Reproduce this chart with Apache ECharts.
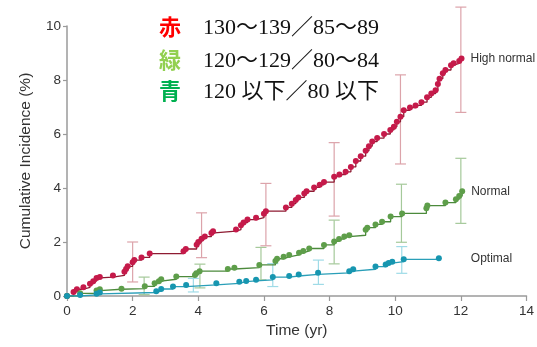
<!DOCTYPE html>
<html>
<head>
<meta charset="utf-8">
<script src="https://cdn.jsdelivr.net/npm/echarts@6/dist/echarts.min.js"></script>
<style>
  html, body { margin: 0; padding: 0; background: #fff; }
  #chart { width: 537px; height: 347px; }
</style>
</head>
<body>
<div id="chart"></div>
<script>
// 曲线数据 [时间, 累计发生率]
const highNormal = [[0, 0], [0.2, 0.15], [0.3, 0.25], [0.5, 0.32], [0.7, 0.45], [0.8, 0.55], [0.9, 0.67], [1.0, 0.7], [1.4, 0.76], [1.75, 0.9], [1.8, 1.0], [1.85, 1.1], [2.0, 1.25], [2.05, 1.33], [2.27, 1.43], [2.52, 1.57], [3.55, 1.66], [3.62, 1.74], [3.95, 1.9], [4.0, 2.0], [4.1, 2.12], [4.2, 2.2], [4.4, 2.33], [4.45, 2.4], [5.15, 2.46], [5.3, 2.62], [5.38, 2.72], [5.5, 2.83], [5.76, 2.9], [6.0, 3.05], [6.06, 3.14], [6.67, 3.28], [6.85, 3.42], [6.97, 3.56], [7.05, 3.65], [7.23, 3.8], [7.3, 3.88], [7.53, 4.02], [7.7, 4.12], [7.83, 4.22], [8.14, 4.42], [8.3, 4.5], [8.49, 4.6], [8.65, 4.78], [8.8, 5.0], [8.95, 5.18], [9.1, 5.38], [9.2, 5.55], [9.3, 5.72], [9.45, 5.85], [9.66, 6.0], [9.85, 6.15], [9.96, 6.27], [10.05, 6.45], [10.16, 6.64], [10.26, 6.88], [10.45, 6.98], [10.62, 7.06], [10.8, 7.18], [10.97, 7.36], [11.1, 7.5], [11.23, 7.62], [11.3, 7.85], [11.35, 8.05], [11.45, 8.25], [11.53, 8.37], [11.7, 8.55], [11.78, 8.62], [11.95, 8.7], [12.02, 8.8]]
const normal = [[0, 0], [0.4, 0.1], [0.9, 0.2], [1.0, 0.25], [1.66, 0.27], [2.37, 0.36], [2.67, 0.47], [2.8, 0.55], [2.87, 0.62], [3.33, 0.72], [3.9, 0.78], [3.94, 0.84], [4.04, 0.92], [4.9, 1.0], [5.1, 1.05], [5.86, 1.15], [6.35, 1.3], [6.4, 1.38], [6.6, 1.45], [6.77, 1.52], [7.07, 1.6], [7.2, 1.67], [7.38, 1.76], [7.83, 1.89], [8.14, 2.02], [8.29, 2.11], [8.45, 2.2], [8.6, 2.25], [9.1, 2.45], [9.15, 2.53], [9.4, 2.65], [9.6, 2.75], [9.86, 2.94], [10.21, 3.06], [10.95, 3.25], [10.98, 3.35], [11.53, 3.46], [11.85, 3.58], [11.95, 3.7], [12.04, 3.88]]
const optimal = [[0, 0], [0.4, 0.04], [0.9, 0.08], [1.0, 0.13], [2.72, 0.18], [2.87, 0.26], [3.23, 0.35], [3.63, 0.41], [4.55, 0.47], [5.25, 0.53], [5.46, 0.56], [5.76, 0.6], [6.27, 0.7], [6.77, 0.74], [7.06, 0.8], [7.65, 0.86], [8.6, 0.92], [8.72, 0.99], [9.4, 1.09], [9.71, 1.17], [9.8, 1.22], [9.91, 1.27], [10.26, 1.36], [11.33, 1.4]]

// 误差线 [时间, 下限, 上限]
const highNormalErr = [[2.0, 0.52, 2.0], [4.1, 1.42, 3.08], [6.06, 1.86, 4.17], [8.14, 2.96, 5.68], [10.16, 4.89, 8.19], [12.0, 6.8, 10.7]]
const normalErr = [[2.35, 0.05, 0.7], [4.05, 0.3, 1.18], [5.91, 0.6, 1.8], [8.14, 1.19, 2.81], [10.19, 1.99, 4.14], [12.0, 2.69, 5.1]]
const optimalErr = [[3.85, 0.15, 0.65], [6.27, 0.35, 1.2], [7.66, 0.43, 1.33], [10.2, 0.84, 1.83]]

const seriesNames = ['High normal', 'Normal', 'Optimal']
const xTicks = [0, 2, 4, 6, 8, 10, 12, 14]
const yTicks = [0, 2, 4, 6, 8, 10]

// 图例文字
const legendKeys = ['赤', '緑', '青']
const legendTexts = ['130～139／85～89', '120～129／80～84', '120 以下／80 以下']

const lineColors = ['#8e1b32', '#4c8a3c', '#2a9fb8']
const dotColors = ['#c51a4a', '#5e9e4a', '#1796b0']
const errColors = ['#dca3aa', '#a5c99a', '#9fdbe7']
const keyColors = ['#ff0000', '#92d050', '#00b050']
const labelGaps = [9, 9, 32]
const sansFont = 'Liberation Sans, Arial, sans-serif'

function errSeries (data, color) {
  return {
    type: 'custom',
    data: data,
    z: 1,
    silent: true,
    renderItem: function (params, api) {
      let x = api.value(0)
      let lo = api.coord([x, api.value(1)])
      let hi = api.coord([x, api.value(2)])
      let w = 5.5
      let style = { stroke: color, lineWidth: 1.2 }
      return {
        type: 'group',
        children: [
          { type: 'line', shape: { x1: lo[0], y1: lo[1], x2: hi[0], y2: hi[1] }, style: style },
          { type: 'line', shape: { x1: lo[0] - w, y1: lo[1], x2: lo[0] + w, y2: lo[1] }, style: style },
          { type: 'line', shape: { x1: hi[0] - w, y1: hi[1], x2: hi[0] + w, y2: hi[1] }, style: style }
        ]
      }
    }
  }
}

function curveSeries (data, i) {
  return {
    type: 'line',
    name: seriesNames[i],
    data: data,
    step: 'end',
    z: 3,
    symbol: 'circle',
    symbolSize: 6,
    showAllSymbol: true,
    lineStyle: { color: lineColors[i], width: 1.3 },
    itemStyle: { color: dotColors[i] },
    endLabel: {
      show: true,
      formatter: seriesNames[i],
      distance: labelGaps[i],
      color: '#333',
      fontSize: 12,
      fontFamily: sansFont
    }
  }
}

let legendGraphics = []
legendKeys.forEach(function (k, i) {
  let cy = [29, 62, 93][i]
  legendGraphics.push({
    type: 'text', left: 159, top: cy - 13,
    style: { text: k, fill: keyColors[i], fontSize: 22, fontWeight: 'bold', fontFamily: 'Noto Sans CJK JP' }
  })
  legendGraphics.push({
    type: 'text', left: 203, top: cy - 12,
    style: { text: legendTexts[i], fill: '#111', fontSize: 22, fontFamily: 'Liberation Serif, Noto Sans CJK JP' }
  })
})

let chart = echarts.init(document.getElementById('chart'), null, { renderer: 'canvas' })
chart.setOption({
  animation: false,
  backgroundColor: '#fff',
  grid: { left: 67, right: 9, top: 26, bottom: 51, containLabel: false },
  xAxis: {
    type: 'value',
    min: xTicks[0],
    max: xTicks[xTicks.length - 1],
    interval: 2,
    name: 'Time (yr)',
    nameLocation: 'middle',
    nameGap: 27,
    nameTextStyle: { fontSize: 15.5, color: '#333', fontFamily: sansFont, verticalAlign: 'top' },
    axisLine: { lineStyle: { color: '#9a9a9a', width: 1.5 } },
    axisTick: { show: true, length: 5, lineStyle: { color: '#9a9a9a', width: 1.2 } },
    axisLabel: { fontSize: 13.5, color: '#333', margin: 8, fontFamily: sansFont },
    splitLine: { show: false }
  },
  yAxis: {
    type: 'value',
    min: yTicks[0],
    max: yTicks[yTicks.length - 1],
    interval: 2,
    name: 'Cumulative Incidence (%)',
    nameLocation: 'middle',
    nameRotate: 90,
    nameGap: 33,
    nameTextStyle: { fontSize: 15.5, color: '#333', fontFamily: sansFont },
    axisLine: { show: true, lineStyle: { color: '#9a9a9a', width: 1.5 } },
    axisTick: { show: true, length: 4, lineStyle: { color: '#9a9a9a', width: 1.2 } },
    axisLabel: { fontSize: 13.5, color: '#333', margin: 6, fontFamily: sansFont },
    splitLine: { show: false }
  },
  graphic: legendGraphics,
  series: [
    errSeries(highNormalErr, errColors[0]),
    errSeries(normalErr, errColors[1]),
    errSeries(optimalErr, errColors[2]),
    curveSeries(highNormal, 0),
    curveSeries(normal, 1),
    curveSeries(optimal, 2)
  ]
})
</script>
</body>
</html>
